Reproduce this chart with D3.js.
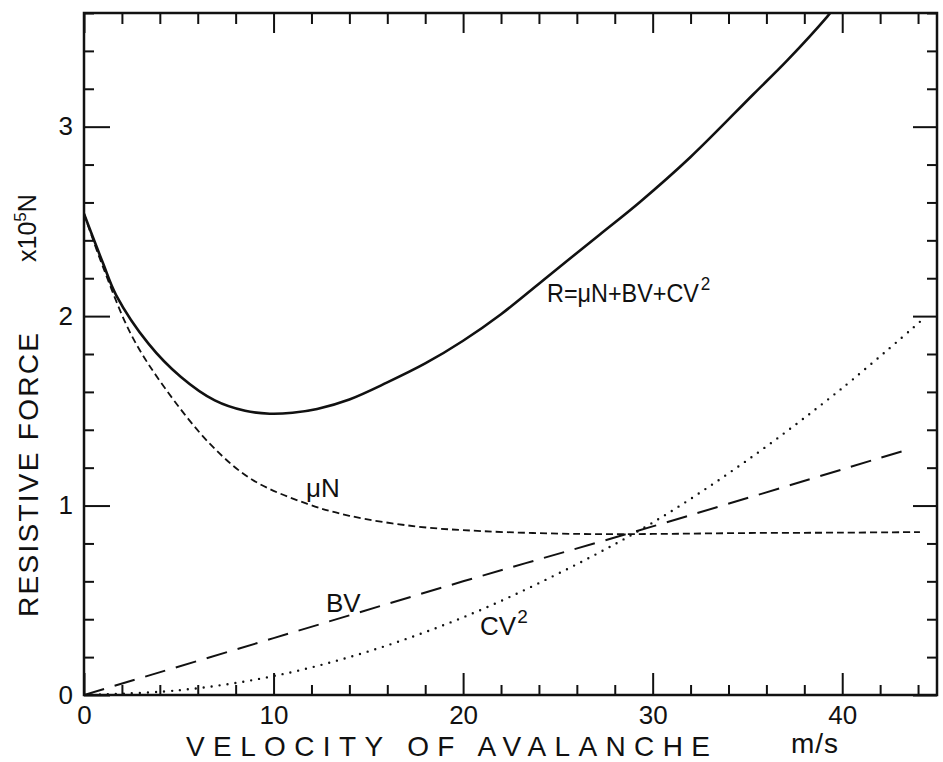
<!DOCTYPE html>
<html>
<head>
<meta charset="utf-8">
<script src="https://cdn.jsdelivr.net/npm/d3@7/dist/d3.min.js"></script>
<style>
  html, body { margin: 0; padding: 0; background: #fff; }
  svg { display: block; }
  text { font-family: "Liberation Sans", "DejaVu Sans", sans-serif; fill: #111; }
</style>
</head>
<body>
<svg id="chart" width="943" height="762"></svg>
<script>
// ---- data (velocity m/s, force x10^5 N) ----
const velocityTotal = [0, 1.0, 1.7, 3.4, 5.1, 6.9, 8.5, 9.8, 11.0, 12.3, 14.0, 16.0, 18.0, 20.0, 22.0, 24.6, 27.2, 29.3, 32.0, 35.3, 37.1, 39.2, 39.6];
const forceTotal    = [2.54, 2.28, 2.11, 1.855, 1.68, 1.555, 1.50, 1.485, 1.49, 1.51, 1.56, 1.65, 1.75, 1.87, 2.01, 2.22, 2.43, 2.60, 2.84, 3.17, 3.35, 3.58, 3.63];

const velocityMuN = [0, 1.0, 2.5, 4.2, 6.7, 8.9, 11.75, 14.0, 17.5, 21.0, 26.2, 30, 35, 40, 44.1];
const forceMuN    = [2.54, 2.26, 1.90, 1.63, 1.32, 1.135, 1.01, 0.946, 0.89, 0.865, 0.85, 0.85, 0.855, 0.857, 0.86];

const velocityBV = [0, 10, 20, 30, 43.6];
const forceBV    = [0, 0.30, 0.60, 0.89, 1.30];

const velocityCV2 = [0, 5, 10, 15, 20, 25, 30, 35, 40, 44.1];
const forceCV2    = [0, 0.025, 0.10, 0.23, 0.41, 0.64, 0.91, 1.24, 1.62, 1.97];

const xMajorTicks = [0, 10, 20, 30, 40];
const yMajorTicks = [0, 1, 2, 3];
const xDomain = [0, 45];
const yDomain = [0, 3.6];

const xTitle = "VELOCITY  OF  AVALANCHE";
const xUnit = "m/s";
const yTitle = "RESISTIVE  FORCE";

// ---- layout ----
const svg = d3.select("#chart");
const L = 84, R = 937, T = 13, B = 695;
const x = d3.scaleLinear().domain(xDomain).range([L, R]);
const y = d3.scaleLinear().domain(yDomain).range([B, T]);
const ink = "#111";

const xMinor = d3.range(0, 45.001, 2).filter(v => v % 10 !== 0);
const yMinor = d3.range(0, 3.601, 0.2).map(v => +v.toFixed(1)).filter(v => Math.abs(v - Math.round(v)) > 1e-6);

function styleAxis(g) {
  g.select(".domain").remove();
  g.selectAll("line").attr("stroke", ink).attr("stroke-width", 2);
  g.selectAll("text").attr("font-size", 26).attr("fill", ink);
}

// bottom axis
svg.append("g").attr("transform", `translate(0,${B})`)
  .call(d3.axisBottom(x).tickValues(xMinor).tickSize(-10).tickFormat(""))
  .call(styleAxis);
svg.append("g").attr("transform", `translate(0,${B})`)
  .call(d3.axisBottom(x).tickValues(xMajorTicks).tickSize(-22).tickPadding(11).tickFormat(d3.format("d")))
  .call(styleAxis);
// top axis
svg.append("g").attr("transform", `translate(0,${T})`)
  .call(d3.axisTop(x).tickValues(xMinor).tickSize(-11).tickFormat(""))
  .call(styleAxis);
svg.append("g").attr("transform", `translate(0,${T})`)
  .call(d3.axisTop(x).tickValues(xMajorTicks).tickSize(-20).tickFormat(""))
  .call(styleAxis);
// left axis
svg.append("g").attr("transform", `translate(${L},0)`)
  .call(d3.axisLeft(y).tickValues(yMinor).tickSize(-10).tickFormat(""))
  .call(styleAxis);
svg.append("g").attr("transform", `translate(${L},0)`)
  .call(d3.axisLeft(y).tickValues(yMajorTicks).tickSize(-26).tickPadding(11).tickFormat(d3.format("d")))
  .call(styleAxis);
// right axis
svg.append("g").attr("transform", `translate(${R},0)`)
  .call(d3.axisRight(y).tickValues(yMinor).tickSize(-10).tickFormat(""))
  .call(styleAxis);
svg.append("g").attr("transform", `translate(${R},0)`)
  .call(d3.axisRight(y).tickValues(yMajorTicks).tickSize(-24).tickFormat(""))
  .call(styleAxis);

// frame
svg.append("rect").attr("x", L).attr("y", T).attr("width", R - L).attr("height", B - T)
  .attr("fill", "none").attr("stroke", ink).attr("stroke-width", 2.5);

// clip
svg.append("clipPath").attr("id", "plotclip")
  .append("rect").attr("x", L).attr("y", T).attr("width", R - L).attr("height", B - T);

const plot = svg.append("g").attr("clip-path", "url(#plotclip)");

function series(vs, fs) { return vs.map((v, i) => [v, fs[i]]); }
const line = d3.line().x(d => x(d[0])).y(d => y(d[1])).curve(d3.curveCatmullRom.alpha(0.5));

plot.append("path").datum(series(velocityMuN, forceMuN))
  .attr("d", line).attr("fill", "none").attr("stroke", ink)
  .attr("stroke-width", 1.8).attr("stroke-dasharray", "7 4");
plot.append("path").datum(series(velocityBV, forceBV))
  .attr("d", line).attr("fill", "none").attr("stroke", ink)
  .attr("stroke-width", 2).attr("stroke-dasharray", "21 11");
plot.append("path").datum(series(velocityCV2, forceCV2))
  .attr("d", line).attr("fill", "none").attr("stroke", ink)
  .attr("stroke-width", 2.4).attr("stroke-linecap", "round").attr("stroke-dasharray", "0 8");
plot.append("path").datum(series(velocityTotal, forceTotal))
  .attr("d", line).attr("fill", "none").attr("stroke", ink)
  .attr("stroke-width", 2.6);

// curve labels
const lab = svg.append("g").attr("font-size", 26);
const rl = lab.append("g").attr("transform", "translate(547,302) scale(0.9,1)")
  .append("text").attr("x", 0).attr("y", 0);
rl.append("tspan").text("R=μN+BV+CV");
rl.append("tspan").attr("font-size", 19).attr("dy", -12).attr("dx", 2).text("2");

lab.append("text").attr("x", 306).attr("y", 497).text("μN");
lab.append("text").attr("x", 326).attr("y", 612).text("BV");
const cl = lab.append("text").attr("x", 480).attr("y", 635);
cl.append("tspan").text("CV");
cl.append("tspan").attr("font-size", 19).attr("dy", -12).attr("dx", 1).text("2");

// axis titles
svg.append("text").attr("x", 186).attr("y", 756).attr("font-size", 28)
  .attr("textLength", 524).attr("lengthAdjust", "spacing").text(xTitle);
svg.append("text").attr("x", 791).attr("y", 753).attr("font-size", 28)
  .attr("textLength", 47).attr("lengthAdjust", "spacing").text(xUnit);

svg.append("text").attr("transform", "translate(38,617) rotate(-90)").attr("font-size", 28)
  .attr("textLength", 284).attr("lengthAdjust", "spacing").text(yTitle);
const unit = svg.append("text").attr("transform", "translate(36,262) rotate(-90)").attr("font-size", 25);
unit.append("tspan").text("x10");
unit.append("tspan").attr("font-size", 17).attr("dy", -10).text("5");
unit.append("tspan").attr("dy", 10).text("N");
</script>
</body>
</html>
